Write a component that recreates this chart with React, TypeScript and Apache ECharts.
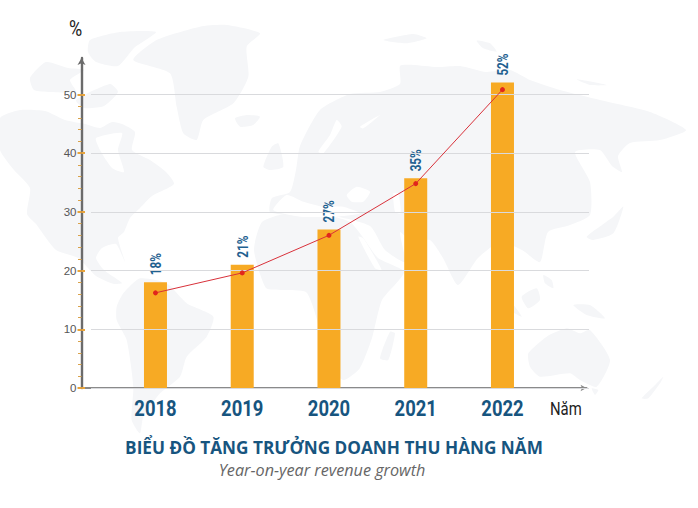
import React, { useEffect, useRef } from "react";
import * as echarts from "echarts";

const years = ["2018", "2019", "2020", "2021", "2022"];
const barValues = [18, 21, 27, 35.7, 52];
const barLabels = ["18%", "21%", "27%", "35%", "52%"];
const lineValues = [16.2, 19.6, 26, 34.8, 50.8];

const LAND = "#f5f6f8";
const FONT = "Roboto";

// Decorative faint world map, outlines in page pixels.
const z = (ox: number, oy: number, pts: number[][]) => pts.map(([x, y]) => [x / 3 + ox, y / 3 + oy]);
const landShapes: number[][][] = [
  // North America
  [[0,118],[20,110],[45,111],[65,120],[85,124],[100,128],[112,122],[122,124],[135,132],[132,150],[150,160],[166,172],[174,184],[152,196],[140,208],[130,218],[124,232],[118,238],[125,262],[116,244],[102,248],[96,258],[104,270],[122,283],[114,284],[96,276],[78,258],[56,250],[36,224],[27,214],[30,188],[14,170],[0,150]],
  // Arctic islands
  [[30,78],[46,62],[68,68],[84,70],[70,80],[76,92],[50,92],[34,90]],
  [[90,40],[120,32],[156,32],[134,48],[118,66],[96,62],[88,52]],
  [[76,100],[110,84],[118,92],[104,106],[84,108]],
  // Greenland
  z(0, 10, [[400,150],[470,90],[600,50],[680,45],[780,70],[740,110],[745,200],[700,280],[610,330],[590,390],[550,370],[530,290],[510,190]]),
  // Iceland
  z(0, 10, [[705,325],[740,315],[780,320],[760,345],[720,350]]),
  // UK
  z(0, 10, [[790,470],[815,410],[835,400],[850,470],[810,480]]),
  // South America
  z(0, 220, [[350,260],[370,220],[420,175],[500,190],[560,250],[640,290],[620,350],[560,410],[540,470],[480,520],[430,590],[420,640],[395,600],[400,500],[380,360],[350,300]]),
  // Eurasia
  [[270,212],[272,198],[290,192],[296,170],[300,146],[320,110],[350,94],[380,92],[400,84],[400,66],[413,65],[437,67],[460,66],[486,72],[510,70],[530,80],[560,90],[600,100],[650,112],[686,130],[660,140],[630,143],[618,156],[622,172],[612,166],[600,150],[575,152],[590,182],[590,215],[570,225],[548,232],[540,262],[522,250],[500,242],[478,258],[458,285],[443,258],[430,240],[412,242],[400,232],[405,262],[385,250],[370,226],[330,215],[320,215],[300,216]],
  // Africa
  [[262,222],[285,214],[330,216],[350,222],[362,236],[378,258],[404,272],[382,300],[372,338],[360,368],[344,380],[330,370],[322,345],[316,316],[306,292],[282,290],[266,288],[254,250]],
  // Madagascar
  z(280, 200, [[330,395],[345,400],[325,480],[300,475]]),
  // Borneo, Sumatra, New Guinea, Philippines
  z(280, 200, [[725,290],[770,265],[780,300],[745,325]]),
  z(280, 200, [[660,270],[705,320],[725,350],[690,330]]),
  z(280, 200, [[880,315],[930,315],[975,355],[920,345]]),
  z(280, 200, [[790,225],[815,240],[820,265],[795,250]]),
  // Japan
  z(280, 20, [[1000,590],[1030,560],[1000,640],[940,660],[920,650]]),
  // Australia
  z(280, 200, [[745,460],[800,410],[860,385],[900,400],[930,390],[990,480],[950,560],[900,540],[870,520],[780,530],[750,500]]),
  z(280, 200, [[935,565],[955,570],[945,585]]),
  // New Zealand
  z(280, 200, [[1085,595],[1120,560],[1150,530],[1140,550],[1105,595]]),
  // Arctic Russia islands
  z(280, 20, [[310,60],[400,42],[440,55],[380,70]]),
  z(280, 20, [[590,62],[630,70],[650,95],[610,85]]),
  z(280, 20, [[890,178],[980,195],[930,195]]),
];
const seaShapes: number[][][] = [
  // Hudson Bay
  [[96,138],[122,133],[118,150],[124,172],[112,168],[100,150]],
  // Mediterranean
  z(280, 20, [[-20,570],[20,525],[70,545],[130,560],[190,560],[240,580],[170,590],[60,590]]),
  // Black Sea, Caspian, Baltic
  z(280, 20, [[200,525],[230,500],[270,515],[250,545],[215,545]]),
  z(280, 20, [[340,520],[355,520],[362,580],[345,575]]),
  z(280, 20, [[170,300],[185,320],[130,400],[115,395],[150,345]]),
  // White Sea
  z(280, 20, [[240,320],[300,285],[250,325]]),
  // Red Sea
  z(280, 200, [[235,110],[250,115],[305,210],[285,205]]),
];

export default function App() {
  const ref = useRef<HTMLDivElement>(null);
  useEffect(() => {
    const chart = echarts.init(ref.current!, undefined, { renderer: "svg" });
    chart.setOption({
      animation: false,
      backgroundColor: "#ffffff",
      title: [
        {
          text: "BIỂU ĐỒ TĂNG TRƯỞNG DOANH THU HÀNG NĂM",
          left: 334, top: 439, padding: 0, textAlign: "center",
          textStyle: { fontFamily: "'Open Sans'", fontWeight: 700, fontSize: 17.2, color: "#17557f" },
        },
        {
          text: "Year-on-year revenue growth",
          left: 322, top: 462, padding: 0, textAlign: "center",
          textStyle: { fontFamily: "'Open Sans'", fontStyle: "italic", fontWeight: 400, fontSize: 16.2, color: "#666666" },
        },
      ],
      graphic: [
        ...landShapes.map((points) => ({ type: "polygon", z: -2, silent: true, shape: { points, smooth: 0.2 }, style: { fill: LAND } })),
        ...seaShapes.map((points) => ({ type: "polygon", z: -1, silent: true, shape: { points, smooth: 0.2 }, style: { fill: "#ffffff" } })),
        { type: "text", x: 69, y: 17, scaleX: 0.82, style: { text: "%", fontFamily: FONT, fontSize: 22, fill: "#222222" } },
        { type: "text", x: 550, y: 400, scaleX: 0.85, style: { text: "Năm", fontFamily: FONT, fontSize: 17.5, fill: "#222222" } },
      ],
      grid: [
        { left: 112.1, width: 433.75, top: 55, height: 333 },
        { left: 81.5, width: 505, top: 58, height: 330 },
        { left: 91, width: 498, top: 94.5, height: 293.5 },
      ],
      xAxis: [
        {
          gridIndex: 0, type: "category", data: years,
          axisLine: { show: false, onZero: false }, axisTick: { show: false }, axisLabel: { show: false },
        },
        {
          gridIndex: 1, type: "value", min: 0, max: 1,
          axisLine: { onZero: false, symbol: ["none", "arrow"], symbolSize: [5, 6], lineStyle: { color: "#8a8a8a", width: 2 } },
          axisTick: { show: false }, axisLabel: { show: false }, splitLine: { show: false },
        },
        { gridIndex: 2, type: "category", data: years, show: false },
      ],
      yAxis: [
        { show: false, type: "value", min: 0, max: 56.7, gridIndex: 0 },
        {
          gridIndex: 1, type: "value", min: 0, max: 1, position: "left",
          axisLine: { show: true, onZero: false, symbol: ["none", "arrow"], symbolSize: [6, 7], lineStyle: { color: "#6b6b6b", width: 2.4 } },
          axisTick: { show: false }, axisLabel: { show: false }, splitLine: { show: false },
        },
        {
          gridIndex: 2, type: "value", min: 0, max: 50, interval: 10, position: "left", offset: 9.5, z: 3,
          axisLine: { show: false, onZero: false },
          axisTick: { show: true, length: 4, lineStyle: { color: "#e8a33a", width: 2 } },
          minorTick: { show: true, splitNumber: 5, length: 3.5, lineStyle: { color: "#d9a24a", width: 1 } },
          axisLabel: { margin: 5, fontFamily: "'Liberation Sans'", fontSize: 11.5, color: "#555555" },
          splitLine: { show: true, lineStyle: { color: "#d9dadd", width: 1 } },
        },
        {
          gridIndex: 2, type: "value", min: 0, max: 50, interval: 10, position: "left", offset: 9.5, z: 3,
          axisLine: { show: false, onZero: false },
          axisTick: { show: true, inside: true, length: 3.5, lineStyle: { color: "#e8a33a", width: 2 } },
          minorTick: { show: false },
          axisLabel: { show: false }, splitLine: { show: false },
        },
      ],
      series: [
        {
          type: "bar", xAxisIndex: 0, yAxisIndex: 0, data: barValues, barWidth: 23,
          itemStyle: { color: "#f7aa24" },
        },
        {
          type: "line", xAxisIndex: 0, yAxisIndex: 0, data: lineValues, symbol: "circle", symbolSize: 5,
          lineStyle: { color: "#d8313a", width: 1 }, itemStyle: { color: "#e1261c" },
        },
        {
          type: "custom", xAxisIndex: 0, yAxisIndex: 0, silent: true,
          data: barValues.map((v, i) => [i, v]),
          renderItem: (params: any, api: any) => {
            const [x, y] = api.coord([api.value(0), api.value(1)]);
            return {
              type: "text", x: x + 0.5, y: y - 7, rotation: Math.PI / 2, scaleX: 0.78,
              style: {
                text: barLabels[params.dataIndex], fontFamily: FONT, fontWeight: 700, fontSize: 15,
                fill: "#1f6190", textAlign: "left", textVerticalAlign: "middle",
              },
            };
          },
        },
        {
          type: "custom", xAxisIndex: 0, yAxisIndex: 0, silent: true,
          data: years.map((_, i) => [i, 0]),
          renderItem: (params: any, api: any) => {
            const [x, y] = api.coord([api.value(0), api.value(1)]);
            return {
              type: "text", x, y: y + 20, scaleX: 0.82,
              style: {
                text: years[params.dataIndex], fontFamily: FONT, fontWeight: 700, fontSize: 22.5,
                fill: "#17557f", textAlign: "center", textVerticalAlign: "middle",
              },
            };
          },
        },
      ],
    });
    return () => chart.dispose();
  }, []);
  return <div ref={ref} style={{ position: "absolute", left: 0, top: 0, width: 698, height: 508 }} />;
}
